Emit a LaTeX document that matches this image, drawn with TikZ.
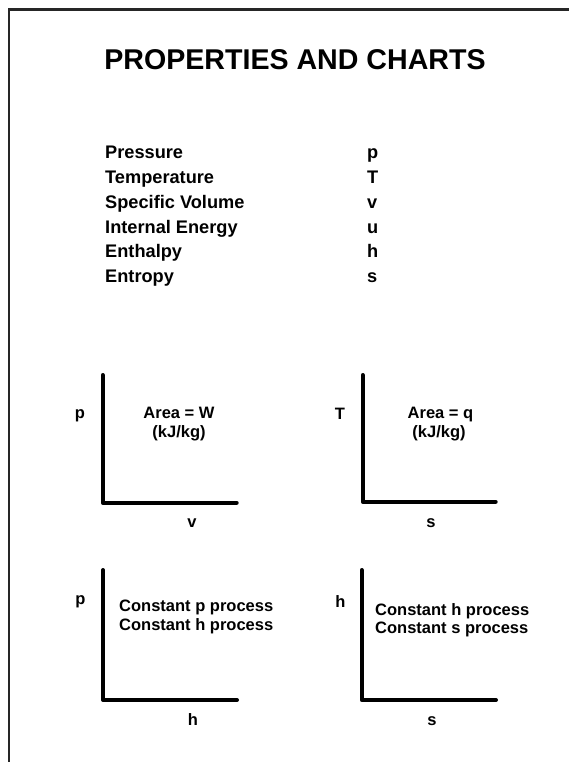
\documentclass[tikz,border=0pt]{standalone}
\usepackage{fontspec}
\setmainfont{Liberation Sans}
\begin{document}
\begin{tikzpicture}[x=1pt,y=-1pt,
  titletext/.style={font=\fontsize{28.6}{28.6}\selectfont\bfseries, inner sep=0pt, anchor=base},
  rowtext/.style={font=\fontsize{18.2}{18.2}\selectfont\bfseries, inner sep=0pt, anchor=base west},
  ctext/.style={font=\fontsize{16.5}{16.5}\selectfont\bfseries, inner sep=0pt, anchor=base},
  ltext/.style={font=\fontsize{16.5}{16.5}\selectfont\bfseries, inner sep=0pt, anchor=base west},
  axisline/.style={line width=4pt, line cap=round, line join=round},
  frameline/.style={line width=2.5pt, draw=black!85}]
\useasboundingbox (0,0) rectangle (569,762);
\clip (0,0) rectangle (569,762);
% frame (partly outside the page)
\coordinate (fr1) at (580,9.7);
\coordinate (fr2) at (9,9.7);
\coordinate (fr3) at (9,780);
\draw[frameline] (fr1) -- (fr2) -- (fr3);
% title
\node[titletext] (title) at (295,70) {PROPERTIES AND CHARTS};
% property table
\node[rowtext] (r1) at (105,158.3) {Pressure};
\node[rowtext] (r2) at (105,183.3) {Temperature};
\node[rowtext] (r3) at (105,208.3) {Specific Volume};
\node[rowtext] (r4) at (105,233.3) {Internal Energy};
\node[rowtext] (r5) at (105,257.8) {Enthalpy};
\node[rowtext] (r6) at (105,282) {Entropy};
\node[rowtext] (s1) at (367,158.3) {p};
\node[rowtext] (s2) at (367,183.3) {T};
\node[rowtext] (s3) at (367,208.3) {v};
\node[rowtext] (s4) at (367,233.3) {u};
\node[rowtext] (s5) at (367,257.8) {h};
\node[rowtext] (s6) at (367,282) {s};
% chart 1: p-v
\coordinate (a1top) at (102.7,375);
\coordinate (a1o) at (102.7,502.7);
\coordinate (a1end) at (236.7,502.7);
\draw[axisline] (a1top) -- (a1o) -- (a1end);
\node[ctext] (a1y) at (80,418) {p};
\node[ctext] (a1x) at (192,527) {v};
\node[ctext] (a1t1) at (179,418) {Area = W};
\node[ctext] (a1t2) at (179,437) {(kJ/kg)};
% chart 2: T-s
\coordinate (a2top) at (362.7,375);
\coordinate (a2o) at (362.7,501.7);
\coordinate (a2end) at (495.7,501.7);
\draw[axisline] (a2top) -- (a2o) -- (a2end);
\node[ctext] (a2y) at (340,419.5) {T};
\node[ctext] (a2x) at (431,527) {s};
\node[ctext] (a2t1) at (440.5,418) {Area = q};
\node[ctext] (a2t2) at (439,437) {(kJ/kg)};
% chart 3: p-h
\coordinate (a3top) at (103,570);
\coordinate (a3o) at (103,700);
\coordinate (a3end) at (237,700);
\draw[axisline] (a3top) -- (a3o) -- (a3end);
\node[ctext] (a3y) at (80.5,604) {p};
\node[ctext] (a3x) at (193,725) {h};
\node[ltext] (a3t1) at (119,611.7) {Constant p process};
\node[ltext] (a3t2) at (119,630) {Constant h process};
% chart 4: h-s
\coordinate (a4top) at (361.7,570);
\coordinate (a4o) at (361.7,700);
\coordinate (a4end) at (496,700);
\draw[axisline] (a4top) -- (a4o) -- (a4end);
\node[ctext] (a4y) at (340.5,607) {h};
\node[ctext] (a4x) at (432,725) {s};
\node[ltext] (a4t1) at (375,615) {Constant h process};
\node[ltext] (a4t2) at (375,633.3) {Constant s process};
\end{tikzpicture}
\end{document}
